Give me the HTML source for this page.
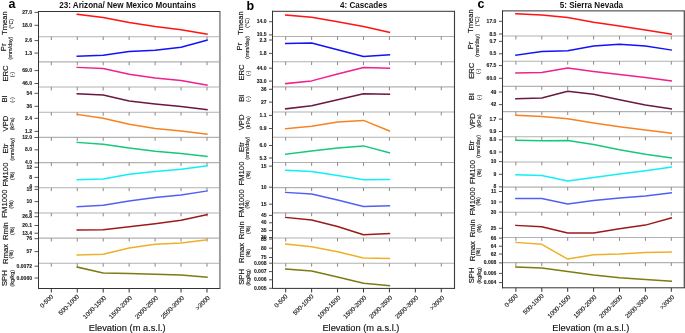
<!DOCTYPE html>
<html><head><meta charset="utf-8"><style>
html,body{margin:0;padding:0;background:#fff;}
body{width:685px;height:333px;overflow:hidden;}
svg{display:block;will-change:transform;}
text{font-family:"Liberation Sans", sans-serif;}
.tk{font-size:4.9px;font-weight:bold;text-anchor:end;fill:#1a1a1a;stroke:#1a1a1a;stroke-width:0.1px;}
.yl{font-size:7.7px;text-anchor:middle;fill:#1a1a1a;stroke:#1a1a1a;stroke-width:0.18px;}
.yu{font-size:5.4px;text-anchor:middle;fill:#222;stroke:#222;stroke-width:0.12px;}
.xl{font-size:6.2px;text-anchor:end;fill:#1a1a1a;stroke:#1a1a1a;stroke-width:0.15px;}
.xt{font-size:9.3px;text-anchor:middle;fill:#111;stroke:#111;stroke-width:0.15px;}
.tt{font-size:9.2px;font-weight:bold;text-anchor:middle;fill:#111;}
.pl{font-size:12.5px;font-weight:bold;fill:#000;}
</style></head><body>
<svg width="685" height="333" viewBox="0 0 685 333" xmlns="http://www.w3.org/2000/svg">
<line x1="38" y1="36.68" x2="220" y2="36.68" stroke="#b2b2b2" stroke-width="1.1"/>
<line x1="38" y1="61.86" x2="220" y2="61.86" stroke="#b2b2b2" stroke-width="1.1"/>
<line x1="38" y1="87.05" x2="220" y2="87.05" stroke="#b2b2b2" stroke-width="1.1"/>
<line x1="38" y1="112.23" x2="220" y2="112.23" stroke="#b2b2b2" stroke-width="1.1"/>
<line x1="38" y1="137.41" x2="220" y2="137.41" stroke="#b2b2b2" stroke-width="1.1"/>
<line x1="38" y1="162.59" x2="220" y2="162.59" stroke="#b2b2b2" stroke-width="1.1"/>
<line x1="38" y1="187.77" x2="220" y2="187.77" stroke="#b2b2b2" stroke-width="1.1"/>
<line x1="38" y1="212.95" x2="220" y2="212.95" stroke="#b2b2b2" stroke-width="1.1"/>
<line x1="38" y1="238.14" x2="220" y2="238.14" stroke="#b2b2b2" stroke-width="1.1"/>
<line x1="38" y1="263.32" x2="220" y2="263.32" stroke="#b2b2b2" stroke-width="1.1"/>
<line x1="51.3" y1="36.68" x2="51.3" y2="40.08" stroke="#888" stroke-width="1"/>
<line x1="77.25" y1="36.68" x2="77.25" y2="40.08" stroke="#888" stroke-width="1"/>
<line x1="103.2" y1="36.68" x2="103.2" y2="40.08" stroke="#888" stroke-width="1"/>
<line x1="129.15" y1="36.68" x2="129.15" y2="40.08" stroke="#888" stroke-width="1"/>
<line x1="155.1" y1="36.68" x2="155.1" y2="40.08" stroke="#888" stroke-width="1"/>
<line x1="181.05" y1="36.68" x2="181.05" y2="40.08" stroke="#888" stroke-width="1"/>
<line x1="207" y1="36.68" x2="207" y2="40.08" stroke="#888" stroke-width="1"/>
<line x1="51.3" y1="61.86" x2="51.3" y2="65.26" stroke="#888" stroke-width="1"/>
<line x1="77.25" y1="61.86" x2="77.25" y2="65.26" stroke="#888" stroke-width="1"/>
<line x1="103.2" y1="61.86" x2="103.2" y2="65.26" stroke="#888" stroke-width="1"/>
<line x1="129.15" y1="61.86" x2="129.15" y2="65.26" stroke="#888" stroke-width="1"/>
<line x1="155.1" y1="61.86" x2="155.1" y2="65.26" stroke="#888" stroke-width="1"/>
<line x1="181.05" y1="61.86" x2="181.05" y2="65.26" stroke="#888" stroke-width="1"/>
<line x1="207" y1="61.86" x2="207" y2="65.26" stroke="#888" stroke-width="1"/>
<line x1="51.3" y1="87.05" x2="51.3" y2="90.45" stroke="#888" stroke-width="1"/>
<line x1="77.25" y1="87.05" x2="77.25" y2="90.45" stroke="#888" stroke-width="1"/>
<line x1="103.2" y1="87.05" x2="103.2" y2="90.45" stroke="#888" stroke-width="1"/>
<line x1="129.15" y1="87.05" x2="129.15" y2="90.45" stroke="#888" stroke-width="1"/>
<line x1="155.1" y1="87.05" x2="155.1" y2="90.45" stroke="#888" stroke-width="1"/>
<line x1="181.05" y1="87.05" x2="181.05" y2="90.45" stroke="#888" stroke-width="1"/>
<line x1="207" y1="87.05" x2="207" y2="90.45" stroke="#888" stroke-width="1"/>
<line x1="51.3" y1="112.23" x2="51.3" y2="115.63" stroke="#888" stroke-width="1"/>
<line x1="77.25" y1="112.23" x2="77.25" y2="115.63" stroke="#888" stroke-width="1"/>
<line x1="103.2" y1="112.23" x2="103.2" y2="115.63" stroke="#888" stroke-width="1"/>
<line x1="129.15" y1="112.23" x2="129.15" y2="115.63" stroke="#888" stroke-width="1"/>
<line x1="155.1" y1="112.23" x2="155.1" y2="115.63" stroke="#888" stroke-width="1"/>
<line x1="181.05" y1="112.23" x2="181.05" y2="115.63" stroke="#888" stroke-width="1"/>
<line x1="207" y1="112.23" x2="207" y2="115.63" stroke="#888" stroke-width="1"/>
<line x1="51.3" y1="137.41" x2="51.3" y2="140.81" stroke="#888" stroke-width="1"/>
<line x1="77.25" y1="137.41" x2="77.25" y2="140.81" stroke="#888" stroke-width="1"/>
<line x1="103.2" y1="137.41" x2="103.2" y2="140.81" stroke="#888" stroke-width="1"/>
<line x1="129.15" y1="137.41" x2="129.15" y2="140.81" stroke="#888" stroke-width="1"/>
<line x1="155.1" y1="137.41" x2="155.1" y2="140.81" stroke="#888" stroke-width="1"/>
<line x1="181.05" y1="137.41" x2="181.05" y2="140.81" stroke="#888" stroke-width="1"/>
<line x1="207" y1="137.41" x2="207" y2="140.81" stroke="#888" stroke-width="1"/>
<line x1="51.3" y1="162.59" x2="51.3" y2="165.99" stroke="#888" stroke-width="1"/>
<line x1="77.25" y1="162.59" x2="77.25" y2="165.99" stroke="#888" stroke-width="1"/>
<line x1="103.2" y1="162.59" x2="103.2" y2="165.99" stroke="#888" stroke-width="1"/>
<line x1="129.15" y1="162.59" x2="129.15" y2="165.99" stroke="#888" stroke-width="1"/>
<line x1="155.1" y1="162.59" x2="155.1" y2="165.99" stroke="#888" stroke-width="1"/>
<line x1="181.05" y1="162.59" x2="181.05" y2="165.99" stroke="#888" stroke-width="1"/>
<line x1="207" y1="162.59" x2="207" y2="165.99" stroke="#888" stroke-width="1"/>
<line x1="51.3" y1="187.77" x2="51.3" y2="191.17" stroke="#888" stroke-width="1"/>
<line x1="77.25" y1="187.77" x2="77.25" y2="191.17" stroke="#888" stroke-width="1"/>
<line x1="103.2" y1="187.77" x2="103.2" y2="191.17" stroke="#888" stroke-width="1"/>
<line x1="129.15" y1="187.77" x2="129.15" y2="191.17" stroke="#888" stroke-width="1"/>
<line x1="155.1" y1="187.77" x2="155.1" y2="191.17" stroke="#888" stroke-width="1"/>
<line x1="181.05" y1="187.77" x2="181.05" y2="191.17" stroke="#888" stroke-width="1"/>
<line x1="207" y1="187.77" x2="207" y2="191.17" stroke="#888" stroke-width="1"/>
<line x1="51.3" y1="212.95" x2="51.3" y2="216.35" stroke="#888" stroke-width="1"/>
<line x1="77.25" y1="212.95" x2="77.25" y2="216.35" stroke="#888" stroke-width="1"/>
<line x1="103.2" y1="212.95" x2="103.2" y2="216.35" stroke="#888" stroke-width="1"/>
<line x1="129.15" y1="212.95" x2="129.15" y2="216.35" stroke="#888" stroke-width="1"/>
<line x1="155.1" y1="212.95" x2="155.1" y2="216.35" stroke="#888" stroke-width="1"/>
<line x1="181.05" y1="212.95" x2="181.05" y2="216.35" stroke="#888" stroke-width="1"/>
<line x1="207" y1="212.95" x2="207" y2="216.35" stroke="#888" stroke-width="1"/>
<line x1="51.3" y1="238.14" x2="51.3" y2="241.54" stroke="#888" stroke-width="1"/>
<line x1="77.25" y1="238.14" x2="77.25" y2="241.54" stroke="#888" stroke-width="1"/>
<line x1="103.2" y1="238.14" x2="103.2" y2="241.54" stroke="#888" stroke-width="1"/>
<line x1="129.15" y1="238.14" x2="129.15" y2="241.54" stroke="#888" stroke-width="1"/>
<line x1="155.1" y1="238.14" x2="155.1" y2="241.54" stroke="#888" stroke-width="1"/>
<line x1="181.05" y1="238.14" x2="181.05" y2="241.54" stroke="#888" stroke-width="1"/>
<line x1="207" y1="238.14" x2="207" y2="241.54" stroke="#888" stroke-width="1"/>
<line x1="51.3" y1="263.32" x2="51.3" y2="266.72" stroke="#888" stroke-width="1"/>
<line x1="77.25" y1="263.32" x2="77.25" y2="266.72" stroke="#888" stroke-width="1"/>
<line x1="103.2" y1="263.32" x2="103.2" y2="266.72" stroke="#888" stroke-width="1"/>
<line x1="129.15" y1="263.32" x2="129.15" y2="266.72" stroke="#888" stroke-width="1"/>
<line x1="155.1" y1="263.32" x2="155.1" y2="266.72" stroke="#888" stroke-width="1"/>
<line x1="181.05" y1="263.32" x2="181.05" y2="266.72" stroke="#888" stroke-width="1"/>
<line x1="207" y1="263.32" x2="207" y2="266.72" stroke="#888" stroke-width="1"/>
<polyline points="77.25,14.3 103.2,17.6 129.15,22.5 155.1,26.4 181.05,29.7 207,34.1" fill="none" stroke="#ff1414" stroke-width="1.5" stroke-linejoin="round" stroke-linecap="square"/>
<polyline points="77.25,56.3 103.2,55.2 129.15,51.6 155.1,50.3 181.05,47.2 207,40.1" fill="none" stroke="#1212fa" stroke-width="1.5" stroke-linejoin="round" stroke-linecap="square"/>
<polyline points="77.25,67.4 103.2,68.5 129.15,74.3 155.1,78.1 181.05,80.6 207,85.2" fill="none" stroke="#f0208c" stroke-width="1.5" stroke-linejoin="round" stroke-linecap="square"/>
<polyline points="77.25,93.8 103.2,94.9 129.15,100.9 155.1,103.9 181.05,106.4 207,109.7" fill="none" stroke="#6a1840" stroke-width="1.5" stroke-linejoin="round" stroke-linecap="square"/>
<polyline points="77.25,114.4 103.2,118.2 129.15,124.3 155.1,128.4 181.05,131.1 207,134.1" fill="none" stroke="#f88222" stroke-width="1.5" stroke-linejoin="round" stroke-linecap="square"/>
<polyline points="77.25,142.4 103.2,144.3 129.15,148.1 155.1,151.2 181.05,153.6 207,156.4" fill="none" stroke="#14c87c" stroke-width="1.5" stroke-linejoin="round" stroke-linecap="square"/>
<polyline points="77.25,179.8 103.2,178.9 129.15,174.3 155.1,171.5 181.05,169.3 207,165.8" fill="none" stroke="#14eef6" stroke-width="1.5" stroke-linejoin="round" stroke-linecap="square"/>
<polyline points="77.25,206.7 103.2,205.3 129.15,200.9 155.1,197.6 181.05,195.1 207,191" fill="none" stroke="#5060f4" stroke-width="1.5" stroke-linejoin="round" stroke-linecap="square"/>
<polyline points="77.25,230 103.2,229.8 129.15,226.7 155.1,223.7 181.05,220.2 207,214.7" fill="none" stroke="#9c1a1a" stroke-width="1.5" stroke-linejoin="round" stroke-linecap="square"/>
<polyline points="77.25,255 103.2,254.2 129.15,247.9 155.1,244.3 181.05,242.9 207,239.9" fill="none" stroke="#eeb028" stroke-width="1.5" stroke-linejoin="round" stroke-linecap="square"/>
<polyline points="77.25,267.1 103.2,273.1 129.15,273.4 155.1,274.2 181.05,275 207,277.2" fill="none" stroke="#7c7c12" stroke-width="1.5" stroke-linejoin="round" stroke-linecap="square"/>
<line x1="219.9" y1="11" x2="219.9" y2="289" stroke="#9a9a9a" stroke-width="1.9"/>
<line x1="38" y1="11.5" x2="219.9" y2="11.5" stroke="#333" stroke-width="1"/>
<line x1="38" y1="288.5" x2="219.9" y2="288.5" stroke="#333" stroke-width="1"/>
<line x1="38.5" y1="11" x2="38.5" y2="289" stroke="#333" stroke-width="1"/>
<line x1="51.3" y1="288.5" x2="51.3" y2="292.5" stroke="#333" stroke-width="1"/>
<line x1="77.25" y1="288.5" x2="77.25" y2="292.5" stroke="#333" stroke-width="1"/>
<line x1="103.2" y1="288.5" x2="103.2" y2="292.5" stroke="#333" stroke-width="1"/>
<line x1="129.15" y1="288.5" x2="129.15" y2="292.5" stroke="#333" stroke-width="1"/>
<line x1="155.1" y1="288.5" x2="155.1" y2="292.5" stroke="#333" stroke-width="1"/>
<line x1="181.05" y1="288.5" x2="181.05" y2="292.5" stroke="#333" stroke-width="1"/>
<line x1="207" y1="288.5" x2="207" y2="292.5" stroke="#333" stroke-width="1"/>
<line x1="34.5" y1="12.4" x2="38" y2="12.4" stroke="#555" stroke-width="1"/>
<text transform="translate(32,13.9) scale(1.03,1)" class="tk">27.0</text>
<line x1="34.5" y1="25.3" x2="38" y2="25.3" stroke="#555" stroke-width="1"/>
<text transform="translate(32,26.8) scale(1.03,1)" class="tk">18.0</text>
<line x1="34.5" y1="40.6" x2="38" y2="40.6" stroke="#555" stroke-width="1"/>
<text transform="translate(32,42.1) scale(1.03,1)" class="tk">2.6</text>
<line x1="34.5" y1="53.1" x2="38" y2="53.1" stroke="#555" stroke-width="1"/>
<text transform="translate(32,54.6) scale(1.03,1)" class="tk">1.3</text>
<line x1="34.5" y1="70.6" x2="38" y2="70.6" stroke="#555" stroke-width="1"/>
<text transform="translate(32,72.1) scale(1.03,1)" class="tk">69.0</text>
<line x1="34.5" y1="83.5" x2="38" y2="83.5" stroke="#555" stroke-width="1"/>
<text transform="translate(32,85) scale(1.03,1)" class="tk">46.0</text>
<line x1="34.5" y1="93.3" x2="38" y2="93.3" stroke="#555" stroke-width="1"/>
<text transform="translate(32,94.8) scale(1.03,1)" class="tk">54</text>
<line x1="34.5" y1="106.3" x2="38" y2="106.3" stroke="#555" stroke-width="1"/>
<text transform="translate(32,107.8) scale(1.03,1)" class="tk">36</text>
<line x1="34.5" y1="118.3" x2="38" y2="118.3" stroke="#555" stroke-width="1"/>
<text transform="translate(32,119.8) scale(1.03,1)" class="tk">2.4</text>
<line x1="34.5" y1="131.4" x2="38" y2="131.4" stroke="#555" stroke-width="1"/>
<text transform="translate(32,132.9) scale(1.03,1)" class="tk">1.2</text>
<line x1="34.5" y1="137.5" x2="38" y2="137.5" stroke="#555" stroke-width="1"/>
<text transform="translate(32,139) scale(1.03,1)" class="tk">12.0</text>
<line x1="34.5" y1="149.8" x2="38" y2="149.8" stroke="#555" stroke-width="1"/>
<text transform="translate(32,151.3) scale(1.03,1)" class="tk">8.0</text>
<line x1="34.5" y1="162.9" x2="38" y2="162.9" stroke="#555" stroke-width="1"/>
<text transform="translate(32,164.4) scale(1.03,1)" class="tk">4.0</text>
<line x1="34.5" y1="167.3" x2="38" y2="167.3" stroke="#555" stroke-width="1"/>
<text transform="translate(32,168.8) scale(1.03,1)" class="tk">12</text>
<line x1="34.5" y1="177.4" x2="38" y2="177.4" stroke="#555" stroke-width="1"/>
<text transform="translate(32,178.9) scale(1.03,1)" class="tk">8</text>
<line x1="34.5" y1="186.8" x2="38" y2="186.8" stroke="#555" stroke-width="1"/>
<text transform="translate(32,188.3) scale(1.03,1)" class="tk">4</text>
<line x1="34.5" y1="189.4" x2="38" y2="189.4" stroke="#555" stroke-width="1"/>
<text transform="translate(32,190.9) scale(1.03,1)" class="tk">15</text>
<line x1="34.5" y1="201.6" x2="38" y2="201.6" stroke="#555" stroke-width="1"/>
<text transform="translate(32,203.1) scale(1.03,1)" class="tk">10</text>
<line x1="34.5" y1="212.9" x2="38" y2="212.9" stroke="#555" stroke-width="1"/>
<text transform="translate(32,214.4) scale(1.03,1)" class="tk">5</text>
<line x1="34.5" y1="216.7" x2="38" y2="216.7" stroke="#555" stroke-width="1"/>
<text transform="translate(32,218.2) scale(1.03,1)" class="tk">26.8</text>
<line x1="34.5" y1="225.5" x2="38" y2="225.5" stroke="#555" stroke-width="1"/>
<text transform="translate(32,227) scale(1.03,1)" class="tk">20.1</text>
<line x1="34.5" y1="233.2" x2="38" y2="233.2" stroke="#555" stroke-width="1"/>
<text transform="translate(32,234.7) scale(1.03,1)" class="tk">13.4</text>
<line x1="34.5" y1="238.7" x2="38" y2="238.7" stroke="#555" stroke-width="1"/>
<text transform="translate(32,240.2) scale(1.03,1)" class="tk">76</text>
<line x1="34.5" y1="251.6" x2="38" y2="251.6" stroke="#555" stroke-width="1"/>
<text transform="translate(32,253.1) scale(1.03,1)" class="tk">57</text>
<line x1="34.5" y1="266.2" x2="38" y2="266.2" stroke="#555" stroke-width="1"/>
<text transform="translate(32,267.7) scale(1.03,1)" class="tk">0.0072</text>
<line x1="34.5" y1="278" x2="38" y2="278" stroke="#555" stroke-width="1"/>
<text transform="translate(32,279.5) scale(1.03,1)" class="tk">0.0060</text>
<text class="yl" transform="translate(6.51,23.1) rotate(-90)">Tmean</text>
<text class="yu" transform="translate(12.5,23.75) rotate(-90)">(°C)</text>
<text class="yl" transform="translate(5.66,47.3) rotate(-90)">Pr</text>
<text class="yu" transform="translate(11.6,48) rotate(-90)">(mm/day)</text>
<text class="yl" transform="translate(7.61,73.5) rotate(-90)">ERC</text>
<text class="yu" transform="translate(14.2,74.6) rotate(-90)">(-)</text>
<text class="yl" transform="translate(7.16,98.9) rotate(-90)">BI</text>
<text class="yu" transform="translate(14.2,99.8) rotate(-90)">(-)</text>
<text class="yl" transform="translate(7.81,123.5) rotate(-90)">VPD</text>
<text class="yu" transform="translate(14,123.9) rotate(-90)">(kPa)</text>
<text class="yl" transform="translate(7.51,148.5) rotate(-90)">Etr</text>
<text class="yu" transform="translate(13.85,149) rotate(-90)">(mm/day)</text>
<text class="yl" transform="translate(7.81,174.55) rotate(-90)">FM100</text>
<text class="yu" transform="translate(13.6,175.9) rotate(-90)">(%)</text>
<text class="yl" transform="translate(7.36,203.6) rotate(-90)">FM1000</text>
<text class="yu" transform="translate(12.65,204.3) rotate(-90)">(%)</text>
<text class="yl" transform="translate(8.01,231.1) rotate(-90)">Rmin</text>
<text class="yu" transform="translate(13.6,230.9) rotate(-90)">(%)</text>
<text class="yl" transform="translate(8.01,254) rotate(-90)">Rmax</text>
<text class="yu" transform="translate(13.4,254.2) rotate(-90)">(%)</text>
<text class="yl" transform="translate(7.36,278.1) rotate(-90)">SPH</text>
<text class="yu" transform="translate(13.6,278.15) rotate(-90)">(kg/kg)</text>
<text class="xl" transform="translate(53.6,297) rotate(-45)">0-500</text>
<text class="xl" transform="translate(79.55,297) rotate(-45)">500-1000</text>
<text class="xl" transform="translate(106.5,298.2) rotate(-45)">1000-1500</text>
<text class="xl" transform="translate(132.45,298.2) rotate(-45)">1500-2000</text>
<text class="xl" transform="translate(158.4,298.2) rotate(-45)">2000-2500</text>
<text class="xl" transform="translate(184.35,298.2) rotate(-45)">2500-3000</text>
<text class="xl" transform="translate(210.3,298.2) rotate(-45)">&gt;3000</text>
<text class="xt" x="127.2" y="331">Elevation (m a.s.l.)</text>
<text class="tt" transform="translate(127.6,8.1) scale(0.88,1)">23: Arizona/ New Mexico Mountains</text>
<text class="pl" x="8.6" y="8">a</text>
<line x1="272.5" y1="36.49" x2="454.5" y2="36.49" stroke="#b2b2b2" stroke-width="1.1"/>
<line x1="272.5" y1="61.68" x2="454.5" y2="61.68" stroke="#b2b2b2" stroke-width="1.1"/>
<line x1="272.5" y1="86.87" x2="454.5" y2="86.87" stroke="#b2b2b2" stroke-width="1.1"/>
<line x1="272.5" y1="112.06" x2="454.5" y2="112.06" stroke="#b2b2b2" stroke-width="1.1"/>
<line x1="272.5" y1="137.25" x2="454.5" y2="137.25" stroke="#b2b2b2" stroke-width="1.1"/>
<line x1="272.5" y1="162.45" x2="454.5" y2="162.45" stroke="#b2b2b2" stroke-width="1.1"/>
<line x1="272.5" y1="187.64" x2="454.5" y2="187.64" stroke="#b2b2b2" stroke-width="1.1"/>
<line x1="272.5" y1="212.83" x2="454.5" y2="212.83" stroke="#b2b2b2" stroke-width="1.1"/>
<line x1="272.5" y1="238.02" x2="454.5" y2="238.02" stroke="#b2b2b2" stroke-width="1.1"/>
<line x1="272.5" y1="263.21" x2="454.5" y2="263.21" stroke="#b2b2b2" stroke-width="1.1"/>
<line x1="285.7" y1="36.49" x2="285.7" y2="39.89" stroke="#888" stroke-width="1"/>
<line x1="311.63" y1="36.49" x2="311.63" y2="39.89" stroke="#888" stroke-width="1"/>
<line x1="337.56" y1="36.49" x2="337.56" y2="39.89" stroke="#888" stroke-width="1"/>
<line x1="363.49" y1="36.49" x2="363.49" y2="39.89" stroke="#888" stroke-width="1"/>
<line x1="389.42" y1="36.49" x2="389.42" y2="39.89" stroke="#888" stroke-width="1"/>
<line x1="415.35" y1="36.49" x2="415.35" y2="39.89" stroke="#888" stroke-width="1"/>
<line x1="441.28" y1="36.49" x2="441.28" y2="39.89" stroke="#888" stroke-width="1"/>
<line x1="285.7" y1="61.68" x2="285.7" y2="65.08" stroke="#888" stroke-width="1"/>
<line x1="311.63" y1="61.68" x2="311.63" y2="65.08" stroke="#888" stroke-width="1"/>
<line x1="337.56" y1="61.68" x2="337.56" y2="65.08" stroke="#888" stroke-width="1"/>
<line x1="363.49" y1="61.68" x2="363.49" y2="65.08" stroke="#888" stroke-width="1"/>
<line x1="389.42" y1="61.68" x2="389.42" y2="65.08" stroke="#888" stroke-width="1"/>
<line x1="415.35" y1="61.68" x2="415.35" y2="65.08" stroke="#888" stroke-width="1"/>
<line x1="441.28" y1="61.68" x2="441.28" y2="65.08" stroke="#888" stroke-width="1"/>
<line x1="285.7" y1="86.87" x2="285.7" y2="90.27" stroke="#888" stroke-width="1"/>
<line x1="311.63" y1="86.87" x2="311.63" y2="90.27" stroke="#888" stroke-width="1"/>
<line x1="337.56" y1="86.87" x2="337.56" y2="90.27" stroke="#888" stroke-width="1"/>
<line x1="363.49" y1="86.87" x2="363.49" y2="90.27" stroke="#888" stroke-width="1"/>
<line x1="389.42" y1="86.87" x2="389.42" y2="90.27" stroke="#888" stroke-width="1"/>
<line x1="415.35" y1="86.87" x2="415.35" y2="90.27" stroke="#888" stroke-width="1"/>
<line x1="441.28" y1="86.87" x2="441.28" y2="90.27" stroke="#888" stroke-width="1"/>
<line x1="285.7" y1="112.06" x2="285.7" y2="115.46" stroke="#888" stroke-width="1"/>
<line x1="311.63" y1="112.06" x2="311.63" y2="115.46" stroke="#888" stroke-width="1"/>
<line x1="337.56" y1="112.06" x2="337.56" y2="115.46" stroke="#888" stroke-width="1"/>
<line x1="363.49" y1="112.06" x2="363.49" y2="115.46" stroke="#888" stroke-width="1"/>
<line x1="389.42" y1="112.06" x2="389.42" y2="115.46" stroke="#888" stroke-width="1"/>
<line x1="415.35" y1="112.06" x2="415.35" y2="115.46" stroke="#888" stroke-width="1"/>
<line x1="441.28" y1="112.06" x2="441.28" y2="115.46" stroke="#888" stroke-width="1"/>
<line x1="285.7" y1="137.25" x2="285.7" y2="140.65" stroke="#888" stroke-width="1"/>
<line x1="311.63" y1="137.25" x2="311.63" y2="140.65" stroke="#888" stroke-width="1"/>
<line x1="337.56" y1="137.25" x2="337.56" y2="140.65" stroke="#888" stroke-width="1"/>
<line x1="363.49" y1="137.25" x2="363.49" y2="140.65" stroke="#888" stroke-width="1"/>
<line x1="389.42" y1="137.25" x2="389.42" y2="140.65" stroke="#888" stroke-width="1"/>
<line x1="415.35" y1="137.25" x2="415.35" y2="140.65" stroke="#888" stroke-width="1"/>
<line x1="441.28" y1="137.25" x2="441.28" y2="140.65" stroke="#888" stroke-width="1"/>
<line x1="285.7" y1="162.45" x2="285.7" y2="165.85" stroke="#888" stroke-width="1"/>
<line x1="311.63" y1="162.45" x2="311.63" y2="165.85" stroke="#888" stroke-width="1"/>
<line x1="337.56" y1="162.45" x2="337.56" y2="165.85" stroke="#888" stroke-width="1"/>
<line x1="363.49" y1="162.45" x2="363.49" y2="165.85" stroke="#888" stroke-width="1"/>
<line x1="389.42" y1="162.45" x2="389.42" y2="165.85" stroke="#888" stroke-width="1"/>
<line x1="415.35" y1="162.45" x2="415.35" y2="165.85" stroke="#888" stroke-width="1"/>
<line x1="441.28" y1="162.45" x2="441.28" y2="165.85" stroke="#888" stroke-width="1"/>
<line x1="285.7" y1="187.64" x2="285.7" y2="191.04" stroke="#888" stroke-width="1"/>
<line x1="311.63" y1="187.64" x2="311.63" y2="191.04" stroke="#888" stroke-width="1"/>
<line x1="337.56" y1="187.64" x2="337.56" y2="191.04" stroke="#888" stroke-width="1"/>
<line x1="363.49" y1="187.64" x2="363.49" y2="191.04" stroke="#888" stroke-width="1"/>
<line x1="389.42" y1="187.64" x2="389.42" y2="191.04" stroke="#888" stroke-width="1"/>
<line x1="415.35" y1="187.64" x2="415.35" y2="191.04" stroke="#888" stroke-width="1"/>
<line x1="441.28" y1="187.64" x2="441.28" y2="191.04" stroke="#888" stroke-width="1"/>
<line x1="285.7" y1="212.83" x2="285.7" y2="216.23" stroke="#888" stroke-width="1"/>
<line x1="311.63" y1="212.83" x2="311.63" y2="216.23" stroke="#888" stroke-width="1"/>
<line x1="337.56" y1="212.83" x2="337.56" y2="216.23" stroke="#888" stroke-width="1"/>
<line x1="363.49" y1="212.83" x2="363.49" y2="216.23" stroke="#888" stroke-width="1"/>
<line x1="389.42" y1="212.83" x2="389.42" y2="216.23" stroke="#888" stroke-width="1"/>
<line x1="415.35" y1="212.83" x2="415.35" y2="216.23" stroke="#888" stroke-width="1"/>
<line x1="441.28" y1="212.83" x2="441.28" y2="216.23" stroke="#888" stroke-width="1"/>
<line x1="285.7" y1="238.02" x2="285.7" y2="241.42" stroke="#888" stroke-width="1"/>
<line x1="311.63" y1="238.02" x2="311.63" y2="241.42" stroke="#888" stroke-width="1"/>
<line x1="337.56" y1="238.02" x2="337.56" y2="241.42" stroke="#888" stroke-width="1"/>
<line x1="363.49" y1="238.02" x2="363.49" y2="241.42" stroke="#888" stroke-width="1"/>
<line x1="389.42" y1="238.02" x2="389.42" y2="241.42" stroke="#888" stroke-width="1"/>
<line x1="415.35" y1="238.02" x2="415.35" y2="241.42" stroke="#888" stroke-width="1"/>
<line x1="441.28" y1="238.02" x2="441.28" y2="241.42" stroke="#888" stroke-width="1"/>
<line x1="285.7" y1="263.21" x2="285.7" y2="266.61" stroke="#888" stroke-width="1"/>
<line x1="311.63" y1="263.21" x2="311.63" y2="266.61" stroke="#888" stroke-width="1"/>
<line x1="337.56" y1="263.21" x2="337.56" y2="266.61" stroke="#888" stroke-width="1"/>
<line x1="363.49" y1="263.21" x2="363.49" y2="266.61" stroke="#888" stroke-width="1"/>
<line x1="389.42" y1="263.21" x2="389.42" y2="266.61" stroke="#888" stroke-width="1"/>
<line x1="415.35" y1="263.21" x2="415.35" y2="266.61" stroke="#888" stroke-width="1"/>
<line x1="441.28" y1="263.21" x2="441.28" y2="266.61" stroke="#888" stroke-width="1"/>
<polyline points="285.7,15.1 311.63,17.3 337.56,21.7 363.49,26.4 389.42,32.4" fill="none" stroke="#ff1414" stroke-width="1.5" stroke-linejoin="round" stroke-linecap="square"/>
<polyline points="285.7,43.4 311.63,43.1 337.56,49.85 363.49,56.6 389.42,54.9" fill="none" stroke="#1212fa" stroke-width="1.5" stroke-linejoin="round" stroke-linecap="square"/>
<polyline points="285.7,83.6 311.63,80.9 337.56,74 363.49,67.4 389.42,68.2" fill="none" stroke="#f0208c" stroke-width="1.5" stroke-linejoin="round" stroke-linecap="square"/>
<polyline points="285.7,108.8 311.63,105.8 337.56,99.8 363.49,93.8 389.42,94.3" fill="none" stroke="#6a1840" stroke-width="1.5" stroke-linejoin="round" stroke-linecap="square"/>
<polyline points="285.7,128.7 311.63,126.2 337.56,122.1 363.49,120.4 389.42,130.9" fill="none" stroke="#f88222" stroke-width="1.5" stroke-linejoin="round" stroke-linecap="square"/>
<polyline points="285.7,154.2 311.63,150.9 337.56,147.9 363.49,145.9 389.42,152.8" fill="none" stroke="#14c87c" stroke-width="1.5" stroke-linejoin="round" stroke-linecap="square"/>
<polyline points="285.7,170.2 311.63,171.5 337.56,175.4 363.49,179.8 389.42,179.5" fill="none" stroke="#14eef6" stroke-width="1.5" stroke-linejoin="round" stroke-linecap="square"/>
<polyline points="285.7,192.4 311.63,194 337.56,200.1 363.49,206.4 389.42,205.8" fill="none" stroke="#5060f4" stroke-width="1.5" stroke-linejoin="round" stroke-linecap="square"/>
<polyline points="285.7,217.4 311.63,219.9 337.56,226.5 363.49,234.7 389.42,233.6" fill="none" stroke="#9c1a1a" stroke-width="1.5" stroke-linejoin="round" stroke-linecap="square"/>
<polyline points="285.7,244 311.63,246.8 337.56,251.7 363.49,258 389.42,258.6" fill="none" stroke="#eeb028" stroke-width="1.5" stroke-linejoin="round" stroke-linecap="square"/>
<polyline points="285.7,269 311.63,270.9 337.56,277 363.49,283.3 389.42,285.7" fill="none" stroke="#7c7c12" stroke-width="1.5" stroke-linejoin="round" stroke-linecap="square"/>
<line x1="454.5" y1="10.8" x2="454.5" y2="288.9" stroke="#3a3a3a" stroke-width="1.1"/>
<line x1="272" y1="11.3" x2="454.5" y2="11.3" stroke="#333" stroke-width="1"/>
<line x1="272" y1="288.4" x2="454.5" y2="288.4" stroke="#333" stroke-width="1"/>
<line x1="272.5" y1="10.8" x2="272.5" y2="288.9" stroke="#333" stroke-width="1"/>
<line x1="285.7" y1="288.4" x2="285.7" y2="292.4" stroke="#333" stroke-width="1"/>
<line x1="311.63" y1="288.4" x2="311.63" y2="292.4" stroke="#333" stroke-width="1"/>
<line x1="337.56" y1="288.4" x2="337.56" y2="292.4" stroke="#333" stroke-width="1"/>
<line x1="363.49" y1="288.4" x2="363.49" y2="292.4" stroke="#333" stroke-width="1"/>
<line x1="389.42" y1="288.4" x2="389.42" y2="292.4" stroke="#333" stroke-width="1"/>
<line x1="415.35" y1="288.4" x2="415.35" y2="292.4" stroke="#333" stroke-width="1"/>
<line x1="441.28" y1="288.4" x2="441.28" y2="292.4" stroke="#333" stroke-width="1"/>
<line x1="269" y1="21.7" x2="272.5" y2="21.7" stroke="#555" stroke-width="1"/>
<text transform="translate(266.5,23.2) scale(1.03,1)" class="tk">14.0</text>
<line x1="269" y1="34.9" x2="272.5" y2="34.9" stroke="#555" stroke-width="1"/>
<text transform="translate(266.5,36.4) scale(1.03,1)" class="tk">10.5</text>
<line x1="269" y1="40" x2="272.5" y2="40" stroke="#555" stroke-width="1"/>
<text transform="translate(266.5,41.5) scale(1.03,1)" class="tk">2.3</text>
<line x1="269" y1="53.4" x2="272.5" y2="53.4" stroke="#555" stroke-width="1"/>
<text transform="translate(266.5,54.9) scale(1.03,1)" class="tk">1.8</text>
<line x1="269" y1="68.2" x2="272.5" y2="68.2" stroke="#555" stroke-width="1"/>
<text transform="translate(266.5,69.7) scale(1.03,1)" class="tk">44.0</text>
<line x1="269" y1="81.1" x2="272.5" y2="81.1" stroke="#555" stroke-width="1"/>
<text transform="translate(266.5,82.6) scale(1.03,1)" class="tk">33.0</text>
<line x1="269" y1="89.3" x2="272.5" y2="89.3" stroke="#555" stroke-width="1"/>
<text transform="translate(266.5,90.8) scale(1.03,1)" class="tk">36</text>
<line x1="269" y1="102.1" x2="272.5" y2="102.1" stroke="#555" stroke-width="1"/>
<text transform="translate(266.5,103.6) scale(1.03,1)" class="tk">27</text>
<line x1="269" y1="115.4" x2="272.5" y2="115.4" stroke="#555" stroke-width="1"/>
<text transform="translate(266.5,116.9) scale(1.03,1)" class="tk">1.1</text>
<line x1="269" y1="128.5" x2="272.5" y2="128.5" stroke="#555" stroke-width="1"/>
<text transform="translate(266.5,130) scale(1.03,1)" class="tk">0.9</text>
<line x1="269" y1="145.5" x2="272.5" y2="145.5" stroke="#555" stroke-width="1"/>
<text transform="translate(266.5,147) scale(1.03,1)" class="tk">6.0</text>
<line x1="269" y1="158" x2="272.5" y2="158" stroke="#555" stroke-width="1"/>
<text transform="translate(266.5,159.5) scale(1.03,1)" class="tk">5.3</text>
<line x1="269" y1="166.1" x2="272.5" y2="166.1" stroke="#555" stroke-width="1"/>
<text transform="translate(266.5,167.6) scale(1.03,1)" class="tk">15</text>
<line x1="269" y1="187.2" x2="272.5" y2="187.2" stroke="#555" stroke-width="1"/>
<text transform="translate(266.5,188.7) scale(1.03,1)" class="tk">10</text>
<line x1="269" y1="204.2" x2="272.5" y2="204.2" stroke="#555" stroke-width="1"/>
<text transform="translate(266.5,205.7) scale(1.03,1)" class="tk">15</text>
<line x1="269" y1="215.4" x2="272.5" y2="215.4" stroke="#555" stroke-width="1"/>
<text transform="translate(266.5,216.9) scale(1.03,1)" class="tk">45</text>
<line x1="269" y1="222.8" x2="272.5" y2="222.8" stroke="#555" stroke-width="1"/>
<text transform="translate(266.5,224.3) scale(1.03,1)" class="tk">40</text>
<line x1="269" y1="230.6" x2="272.5" y2="230.6" stroke="#555" stroke-width="1"/>
<text transform="translate(266.5,232.1) scale(1.03,1)" class="tk">35</text>
<line x1="269" y1="237.5" x2="272.5" y2="237.5" stroke="#555" stroke-width="1"/>
<text transform="translate(266.5,239) scale(1.03,1)" class="tk">30</text>
<line x1="269" y1="239" x2="272.5" y2="239" stroke="#555" stroke-width="1"/>
<text transform="translate(266.5,240.5) scale(1.03,1)" class="tk">85</text>
<line x1="269" y1="248.2" x2="272.5" y2="248.2" stroke="#555" stroke-width="1"/>
<text transform="translate(266.5,249.7) scale(1.03,1)" class="tk">80</text>
<line x1="269" y1="257.5" x2="272.5" y2="257.5" stroke="#555" stroke-width="1"/>
<text transform="translate(266.5,259) scale(1.03,1)" class="tk">75</text>
<line x1="269" y1="263.2" x2="272.5" y2="263.2" stroke="#555" stroke-width="1"/>
<text transform="translate(266.5,264.7) scale(1.03,1)" class="tk">0.008</text>
<line x1="269" y1="271.6" x2="272.5" y2="271.6" stroke="#555" stroke-width="1"/>
<text transform="translate(266.5,273.1) scale(1.03,1)" class="tk">0.007</text>
<line x1="269" y1="279.8" x2="272.5" y2="279.8" stroke="#555" stroke-width="1"/>
<text transform="translate(266.5,281.3) scale(1.03,1)" class="tk">0.006</text>
<line x1="269" y1="288.3" x2="272.5" y2="288.3" stroke="#555" stroke-width="1"/>
<text transform="translate(266.5,289.8) scale(1.03,1)" class="tk">0.005</text>
<text class="yl" transform="translate(242.71,23.15) rotate(-90)">Tmean</text>
<text class="yu" transform="translate(248.6,22.9) rotate(-90)">(°C)</text>
<text class="yl" transform="translate(242.31,46.6) rotate(-90)">Pr</text>
<text class="yu" transform="translate(248.7,47.25) rotate(-90)">(mm/day)</text>
<text class="yl" transform="translate(243.81,72.5) rotate(-90)">ERC</text>
<text class="yu" transform="translate(250.4,73.35) rotate(-90)">(-)</text>
<text class="yl" transform="translate(243.81,98.15) rotate(-90)">BI</text>
<text class="yu" transform="translate(250.4,99) rotate(-90)">(-)</text>
<text class="yl" transform="translate(244.01,122.35) rotate(-90)">VPD</text>
<text class="yu" transform="translate(250.2,122.6) rotate(-90)">(kPa)</text>
<text class="yl" transform="translate(243.81,147) rotate(-90)">Etr</text>
<text class="yu" transform="translate(249.15,148) rotate(-90)">(mm/day)</text>
<text class="yl" transform="translate(244.01,173.55) rotate(-90)">FM100</text>
<text class="yu" transform="translate(249.8,174.9) rotate(-90)">(%)</text>
<text class="yl" transform="translate(243.71,203.35) rotate(-90)">FM1000</text>
<text class="yu" transform="translate(249.1,204.35) rotate(-90)">(%)</text>
<text class="yl" transform="translate(244.16,230.3) rotate(-90)">Rmin</text>
<text class="yu" transform="translate(250.2,229.9) rotate(-90)">(%)</text>
<text class="yl" transform="translate(244.16,252.9) rotate(-90)">Rmax</text>
<text class="yu" transform="translate(250,253.1) rotate(-90)">(%)</text>
<text class="yl" transform="translate(243.81,276.9) rotate(-90)">SPH</text>
<text class="yu" transform="translate(249.95,277.35) rotate(-90)">(kg/kg)</text>
<text class="xl" transform="translate(288,296.9) rotate(-45)">0-500</text>
<text class="xl" transform="translate(313.93,296.9) rotate(-45)">500-1000</text>
<text class="xl" transform="translate(340.86,298.1) rotate(-45)">1000-1500</text>
<text class="xl" transform="translate(366.79,298.1) rotate(-45)">1500-2000</text>
<text class="xl" transform="translate(392.72,298.1) rotate(-45)">2000-2500</text>
<text class="xl" transform="translate(418.65,298.1) rotate(-45)">2500-3000</text>
<text class="xl" transform="translate(444.58,298.1) rotate(-45)">&gt;3000</text>
<text class="xt" x="360.9" y="331">Elevation (m a.s.l.)</text>
<text class="tt" transform="translate(363.6,8.1) scale(0.88,1)">4: Cascades</text>
<text class="pl" x="246.4" y="9.5">b</text>
<line x1="502.4" y1="36.07" x2="684.2" y2="36.07" stroke="#b2b2b2" stroke-width="1.1"/>
<line x1="502.4" y1="61.25" x2="684.2" y2="61.25" stroke="#b2b2b2" stroke-width="1.1"/>
<line x1="502.4" y1="86.42" x2="684.2" y2="86.42" stroke="#b2b2b2" stroke-width="1.1"/>
<line x1="502.4" y1="111.59" x2="684.2" y2="111.59" stroke="#b2b2b2" stroke-width="1.1"/>
<line x1="502.4" y1="136.76" x2="684.2" y2="136.76" stroke="#b2b2b2" stroke-width="1.1"/>
<line x1="502.4" y1="161.94" x2="684.2" y2="161.94" stroke="#b2b2b2" stroke-width="1.1"/>
<line x1="502.4" y1="187.11" x2="684.2" y2="187.11" stroke="#b2b2b2" stroke-width="1.1"/>
<line x1="502.4" y1="212.28" x2="684.2" y2="212.28" stroke="#b2b2b2" stroke-width="1.1"/>
<line x1="502.4" y1="237.45" x2="684.2" y2="237.45" stroke="#b2b2b2" stroke-width="1.1"/>
<line x1="502.4" y1="262.63" x2="684.2" y2="262.63" stroke="#b2b2b2" stroke-width="1.1"/>
<line x1="515.9" y1="36.07" x2="515.9" y2="39.47" stroke="#888" stroke-width="1"/>
<line x1="541.8" y1="36.07" x2="541.8" y2="39.47" stroke="#888" stroke-width="1"/>
<line x1="567.7" y1="36.07" x2="567.7" y2="39.47" stroke="#888" stroke-width="1"/>
<line x1="593.6" y1="36.07" x2="593.6" y2="39.47" stroke="#888" stroke-width="1"/>
<line x1="619.5" y1="36.07" x2="619.5" y2="39.47" stroke="#888" stroke-width="1"/>
<line x1="645.4" y1="36.07" x2="645.4" y2="39.47" stroke="#888" stroke-width="1"/>
<line x1="671.3" y1="36.07" x2="671.3" y2="39.47" stroke="#888" stroke-width="1"/>
<line x1="515.9" y1="61.25" x2="515.9" y2="64.65" stroke="#888" stroke-width="1"/>
<line x1="541.8" y1="61.25" x2="541.8" y2="64.65" stroke="#888" stroke-width="1"/>
<line x1="567.7" y1="61.25" x2="567.7" y2="64.65" stroke="#888" stroke-width="1"/>
<line x1="593.6" y1="61.25" x2="593.6" y2="64.65" stroke="#888" stroke-width="1"/>
<line x1="619.5" y1="61.25" x2="619.5" y2="64.65" stroke="#888" stroke-width="1"/>
<line x1="645.4" y1="61.25" x2="645.4" y2="64.65" stroke="#888" stroke-width="1"/>
<line x1="671.3" y1="61.25" x2="671.3" y2="64.65" stroke="#888" stroke-width="1"/>
<line x1="515.9" y1="86.42" x2="515.9" y2="89.82" stroke="#888" stroke-width="1"/>
<line x1="541.8" y1="86.42" x2="541.8" y2="89.82" stroke="#888" stroke-width="1"/>
<line x1="567.7" y1="86.42" x2="567.7" y2="89.82" stroke="#888" stroke-width="1"/>
<line x1="593.6" y1="86.42" x2="593.6" y2="89.82" stroke="#888" stroke-width="1"/>
<line x1="619.5" y1="86.42" x2="619.5" y2="89.82" stroke="#888" stroke-width="1"/>
<line x1="645.4" y1="86.42" x2="645.4" y2="89.82" stroke="#888" stroke-width="1"/>
<line x1="671.3" y1="86.42" x2="671.3" y2="89.82" stroke="#888" stroke-width="1"/>
<line x1="515.9" y1="111.59" x2="515.9" y2="114.99" stroke="#888" stroke-width="1"/>
<line x1="541.8" y1="111.59" x2="541.8" y2="114.99" stroke="#888" stroke-width="1"/>
<line x1="567.7" y1="111.59" x2="567.7" y2="114.99" stroke="#888" stroke-width="1"/>
<line x1="593.6" y1="111.59" x2="593.6" y2="114.99" stroke="#888" stroke-width="1"/>
<line x1="619.5" y1="111.59" x2="619.5" y2="114.99" stroke="#888" stroke-width="1"/>
<line x1="645.4" y1="111.59" x2="645.4" y2="114.99" stroke="#888" stroke-width="1"/>
<line x1="671.3" y1="111.59" x2="671.3" y2="114.99" stroke="#888" stroke-width="1"/>
<line x1="515.9" y1="136.76" x2="515.9" y2="140.16" stroke="#888" stroke-width="1"/>
<line x1="541.8" y1="136.76" x2="541.8" y2="140.16" stroke="#888" stroke-width="1"/>
<line x1="567.7" y1="136.76" x2="567.7" y2="140.16" stroke="#888" stroke-width="1"/>
<line x1="593.6" y1="136.76" x2="593.6" y2="140.16" stroke="#888" stroke-width="1"/>
<line x1="619.5" y1="136.76" x2="619.5" y2="140.16" stroke="#888" stroke-width="1"/>
<line x1="645.4" y1="136.76" x2="645.4" y2="140.16" stroke="#888" stroke-width="1"/>
<line x1="671.3" y1="136.76" x2="671.3" y2="140.16" stroke="#888" stroke-width="1"/>
<line x1="515.9" y1="161.94" x2="515.9" y2="165.34" stroke="#888" stroke-width="1"/>
<line x1="541.8" y1="161.94" x2="541.8" y2="165.34" stroke="#888" stroke-width="1"/>
<line x1="567.7" y1="161.94" x2="567.7" y2="165.34" stroke="#888" stroke-width="1"/>
<line x1="593.6" y1="161.94" x2="593.6" y2="165.34" stroke="#888" stroke-width="1"/>
<line x1="619.5" y1="161.94" x2="619.5" y2="165.34" stroke="#888" stroke-width="1"/>
<line x1="645.4" y1="161.94" x2="645.4" y2="165.34" stroke="#888" stroke-width="1"/>
<line x1="671.3" y1="161.94" x2="671.3" y2="165.34" stroke="#888" stroke-width="1"/>
<line x1="515.9" y1="187.11" x2="515.9" y2="190.51" stroke="#888" stroke-width="1"/>
<line x1="541.8" y1="187.11" x2="541.8" y2="190.51" stroke="#888" stroke-width="1"/>
<line x1="567.7" y1="187.11" x2="567.7" y2="190.51" stroke="#888" stroke-width="1"/>
<line x1="593.6" y1="187.11" x2="593.6" y2="190.51" stroke="#888" stroke-width="1"/>
<line x1="619.5" y1="187.11" x2="619.5" y2="190.51" stroke="#888" stroke-width="1"/>
<line x1="645.4" y1="187.11" x2="645.4" y2="190.51" stroke="#888" stroke-width="1"/>
<line x1="671.3" y1="187.11" x2="671.3" y2="190.51" stroke="#888" stroke-width="1"/>
<line x1="515.9" y1="212.28" x2="515.9" y2="215.68" stroke="#888" stroke-width="1"/>
<line x1="541.8" y1="212.28" x2="541.8" y2="215.68" stroke="#888" stroke-width="1"/>
<line x1="567.7" y1="212.28" x2="567.7" y2="215.68" stroke="#888" stroke-width="1"/>
<line x1="593.6" y1="212.28" x2="593.6" y2="215.68" stroke="#888" stroke-width="1"/>
<line x1="619.5" y1="212.28" x2="619.5" y2="215.68" stroke="#888" stroke-width="1"/>
<line x1="645.4" y1="212.28" x2="645.4" y2="215.68" stroke="#888" stroke-width="1"/>
<line x1="671.3" y1="212.28" x2="671.3" y2="215.68" stroke="#888" stroke-width="1"/>
<line x1="515.9" y1="237.45" x2="515.9" y2="240.85" stroke="#888" stroke-width="1"/>
<line x1="541.8" y1="237.45" x2="541.8" y2="240.85" stroke="#888" stroke-width="1"/>
<line x1="567.7" y1="237.45" x2="567.7" y2="240.85" stroke="#888" stroke-width="1"/>
<line x1="593.6" y1="237.45" x2="593.6" y2="240.85" stroke="#888" stroke-width="1"/>
<line x1="619.5" y1="237.45" x2="619.5" y2="240.85" stroke="#888" stroke-width="1"/>
<line x1="645.4" y1="237.45" x2="645.4" y2="240.85" stroke="#888" stroke-width="1"/>
<line x1="671.3" y1="237.45" x2="671.3" y2="240.85" stroke="#888" stroke-width="1"/>
<line x1="515.9" y1="262.63" x2="515.9" y2="266.03" stroke="#888" stroke-width="1"/>
<line x1="541.8" y1="262.63" x2="541.8" y2="266.03" stroke="#888" stroke-width="1"/>
<line x1="567.7" y1="262.63" x2="567.7" y2="266.03" stroke="#888" stroke-width="1"/>
<line x1="593.6" y1="262.63" x2="593.6" y2="266.03" stroke="#888" stroke-width="1"/>
<line x1="619.5" y1="262.63" x2="619.5" y2="266.03" stroke="#888" stroke-width="1"/>
<line x1="645.4" y1="262.63" x2="645.4" y2="266.03" stroke="#888" stroke-width="1"/>
<line x1="671.3" y1="262.63" x2="671.3" y2="266.03" stroke="#888" stroke-width="1"/>
<polyline points="515.9,13.8 541.8,15.1 567.7,17.6 593.6,22.3 619.5,26.1 645.4,30 671.3,34.1" fill="none" stroke="#ff1414" stroke-width="1.5" stroke-linejoin="round" stroke-linecap="square"/>
<polyline points="515.9,55.2 541.8,51.6 567.7,50.8 593.6,46.1 619.5,44.2 645.4,45.9 671.3,50" fill="none" stroke="#1212fa" stroke-width="1.5" stroke-linejoin="round" stroke-linecap="square"/>
<polyline points="515.9,72.9 541.8,72.6 567.7,68 593.6,71.5 619.5,74.5 645.4,77.6 671.3,80.9" fill="none" stroke="#f0208c" stroke-width="1.5" stroke-linejoin="round" stroke-linecap="square"/>
<polyline points="515.9,98.7 541.8,97.9 567.7,91.3 593.6,94.3 619.5,99.8 645.4,105 671.3,108.8" fill="none" stroke="#6a1840" stroke-width="1.5" stroke-linejoin="round" stroke-linecap="square"/>
<polyline points="515.9,115.2 541.8,116.6 567.7,118.8 593.6,122.9 619.5,126.7 645.4,130 671.3,133.1" fill="none" stroke="#f88222" stroke-width="1.5" stroke-linejoin="round" stroke-linecap="square"/>
<polyline points="515.9,140.2 541.8,140.7 567.7,140.5 593.6,144.6 619.5,149.8 645.4,154.2 671.3,158" fill="none" stroke="#14c87c" stroke-width="1.5" stroke-linejoin="round" stroke-linecap="square"/>
<polyline points="515.9,174.8 541.8,175.4 567.7,181.1 593.6,177.6 619.5,174 645.4,170.7 671.3,167.1" fill="none" stroke="#14eef6" stroke-width="1.5" stroke-linejoin="round" stroke-linecap="square"/>
<polyline points="515.9,198.4 541.8,198.4 567.7,203.9 593.6,200.6 619.5,198.1 645.4,195.9 671.3,192.9" fill="none" stroke="#5060f4" stroke-width="1.5" stroke-linejoin="round" stroke-linecap="square"/>
<polyline points="515.9,225.4 541.8,226.7 567.7,233.1 593.6,233.1 619.5,228.7 645.4,225.1 671.3,218" fill="none" stroke="#9c1a1a" stroke-width="1.5" stroke-linejoin="round" stroke-linecap="square"/>
<polyline points="515.9,242.4 541.8,244.3 567.7,259.1 593.6,254.7 619.5,253.9 645.4,252.5 671.3,252" fill="none" stroke="#eeb028" stroke-width="1.5" stroke-linejoin="round" stroke-linecap="square"/>
<polyline points="515.9,267.1 541.8,267.9 567.7,271.5 593.6,275 619.5,277.8 645.4,279.4 671.3,281.1" fill="none" stroke="#7c7c12" stroke-width="1.5" stroke-linejoin="round" stroke-linecap="square"/>
<line x1="684.3" y1="10.4" x2="684.3" y2="288.3" stroke="#444" stroke-width="1.2"/>
<line x1="502" y1="10.9" x2="684.3" y2="10.9" stroke="#333" stroke-width="1"/>
<line x1="502" y1="287.8" x2="684.3" y2="287.8" stroke="#333" stroke-width="1"/>
<line x1="502.5" y1="10.4" x2="502.5" y2="288.3" stroke="#333" stroke-width="1"/>
<line x1="515.9" y1="287.8" x2="515.9" y2="291.8" stroke="#333" stroke-width="1"/>
<line x1="541.8" y1="287.8" x2="541.8" y2="291.8" stroke="#333" stroke-width="1"/>
<line x1="567.7" y1="287.8" x2="567.7" y2="291.8" stroke="#333" stroke-width="1"/>
<line x1="593.6" y1="287.8" x2="593.6" y2="291.8" stroke="#333" stroke-width="1"/>
<line x1="619.5" y1="287.8" x2="619.5" y2="291.8" stroke="#333" stroke-width="1"/>
<line x1="645.4" y1="287.8" x2="645.4" y2="291.8" stroke="#333" stroke-width="1"/>
<line x1="671.3" y1="287.8" x2="671.3" y2="291.8" stroke="#333" stroke-width="1"/>
<line x1="498.9" y1="21.3" x2="502.4" y2="21.3" stroke="#555" stroke-width="1"/>
<text transform="translate(496.4,22.8) scale(1.03,1)" class="tk">17.0</text>
<line x1="498.9" y1="34" x2="502.4" y2="34" stroke="#555" stroke-width="1"/>
<text transform="translate(496.4,35.5) scale(1.03,1)" class="tk">8.5</text>
<line x1="498.9" y1="41.4" x2="502.4" y2="41.4" stroke="#555" stroke-width="1"/>
<text transform="translate(496.4,42.9) scale(1.03,1)" class="tk">0.7</text>
<line x1="498.9" y1="53.8" x2="502.4" y2="53.8" stroke="#555" stroke-width="1"/>
<text transform="translate(496.4,55.3) scale(1.03,1)" class="tk">0.5</text>
<line x1="498.9" y1="65.6" x2="502.4" y2="65.6" stroke="#555" stroke-width="1"/>
<text transform="translate(496.4,67.1) scale(1.03,1)" class="tk">67.5</text>
<line x1="498.9" y1="78.3" x2="502.4" y2="78.3" stroke="#555" stroke-width="1"/>
<text transform="translate(496.4,79.8) scale(1.03,1)" class="tk">60.0</text>
<line x1="498.9" y1="92" x2="502.4" y2="92" stroke="#555" stroke-width="1"/>
<text transform="translate(496.4,93.5) scale(1.03,1)" class="tk">49</text>
<line x1="498.9" y1="104.6" x2="502.4" y2="104.6" stroke="#555" stroke-width="1"/>
<text transform="translate(496.4,106.1) scale(1.03,1)" class="tk">42</text>
<line x1="498.9" y1="119.1" x2="502.4" y2="119.1" stroke="#555" stroke-width="1"/>
<text transform="translate(496.4,120.6) scale(1.03,1)" class="tk">1.7</text>
<line x1="498.9" y1="131.5" x2="502.4" y2="131.5" stroke="#555" stroke-width="1"/>
<text transform="translate(496.4,133) scale(1.03,1)" class="tk">0.9</text>
<line x1="498.9" y1="139.9" x2="502.4" y2="139.9" stroke="#555" stroke-width="1"/>
<text transform="translate(496.4,141.4) scale(1.03,1)" class="tk">8.0</text>
<line x1="498.9" y1="152" x2="502.4" y2="152" stroke="#555" stroke-width="1"/>
<text transform="translate(496.4,153.5) scale(1.03,1)" class="tk">6.0</text>
<line x1="498.9" y1="161.6" x2="502.4" y2="161.6" stroke="#555" stroke-width="1"/>
<text transform="translate(496.4,163.1) scale(1.03,1)" class="tk">10</text>
<line x1="498.9" y1="174.3" x2="502.4" y2="174.3" stroke="#555" stroke-width="1"/>
<text transform="translate(496.4,175.8) scale(1.03,1)" class="tk">9</text>
<line x1="498.9" y1="186.9" x2="502.4" y2="186.9" stroke="#555" stroke-width="1"/>
<text transform="translate(496.4,188.4) scale(1.03,1)" class="tk">8</text>
<line x1="498.9" y1="191.5" x2="502.4" y2="191.5" stroke="#555" stroke-width="1"/>
<text transform="translate(496.4,193) scale(1.03,1)" class="tk">11</text>
<line x1="498.9" y1="202" x2="502.4" y2="202" stroke="#555" stroke-width="1"/>
<text transform="translate(496.4,203.5) scale(1.03,1)" class="tk">10</text>
<line x1="498.9" y1="212.1" x2="502.4" y2="212.1" stroke="#555" stroke-width="1"/>
<text transform="translate(496.4,213.6) scale(1.03,1)" class="tk">30</text>
<line x1="498.9" y1="228.3" x2="502.4" y2="228.3" stroke="#555" stroke-width="1"/>
<text transform="translate(496.4,229.8) scale(1.03,1)" class="tk">25</text>
<line x1="498.9" y1="238.1" x2="502.4" y2="238.1" stroke="#555" stroke-width="1"/>
<text transform="translate(496.4,239.6) scale(1.03,1)" class="tk">66</text>
<line x1="498.9" y1="246.2" x2="502.4" y2="246.2" stroke="#555" stroke-width="1"/>
<text transform="translate(496.4,247.7) scale(1.03,1)" class="tk">64</text>
<line x1="498.9" y1="254" x2="502.4" y2="254" stroke="#555" stroke-width="1"/>
<text transform="translate(496.4,255.5) scale(1.03,1)" class="tk">62</text>
<line x1="498.9" y1="262.9" x2="502.4" y2="262.9" stroke="#555" stroke-width="1"/>
<text transform="translate(496.4,264.4) scale(1.03,1)" class="tk">0.008</text>
<line x1="498.9" y1="273.4" x2="502.4" y2="273.4" stroke="#555" stroke-width="1"/>
<text transform="translate(496.4,274.9) scale(1.03,1)" class="tk">0.006</text>
<line x1="498.9" y1="282.6" x2="502.4" y2="282.6" stroke="#555" stroke-width="1"/>
<text transform="translate(496.4,284.1) scale(1.03,1)" class="tk">0.004</text>
<text class="yl" transform="translate(473.11,21.1) rotate(-90)">Tmean</text>
<text class="yu" transform="translate(479.1,21.35) rotate(-90)">(°C)</text>
<text class="yl" transform="translate(472.66,45.5) rotate(-90)">Pr</text>
<text class="yu" transform="translate(479.1,45.45) rotate(-90)">(mm/day)</text>
<text class="yl" transform="translate(473.96,70.7) rotate(-90)">ERC</text>
<text class="yu" transform="translate(480.2,71.35) rotate(-90)">(-)</text>
<text class="yl" transform="translate(474.41,96.7) rotate(-90)">BI</text>
<text class="yu" transform="translate(480.6,97.35) rotate(-90)">(-)</text>
<text class="yl" transform="translate(474.66,121.2) rotate(-90)">VPD</text>
<text class="yu" transform="translate(480.6,121) rotate(-90)">(kPa)</text>
<text class="yl" transform="translate(474.46,145.6) rotate(-90)">Etr</text>
<text class="yu" transform="translate(479.8,146.4) rotate(-90)">(mm/day)</text>
<text class="yl" transform="translate(474.66,172) rotate(-90)">FM100</text>
<text class="yu" transform="translate(480.6,172.9) rotate(-90)">(%)</text>
<text class="yl" transform="translate(474.71,201.35) rotate(-90)">FM1000</text>
<text class="yu" transform="translate(480.15,201.35) rotate(-90)">(%)</text>
<text class="yl" transform="translate(474.86,228.3) rotate(-90)">Rmin</text>
<text class="yu" transform="translate(480.6,228.3) rotate(-90)">(%)</text>
<text class="yl" transform="translate(474.66,251.1) rotate(-90)">Rmax</text>
<text class="yu" transform="translate(480.4,252) rotate(-90)">(%)</text>
<text class="yl" transform="translate(474.41,275.35) rotate(-90)">SPH</text>
<text class="yu" transform="translate(480.6,275.35) rotate(-90)">(kg/kg)</text>
<text class="xl" transform="translate(518.2,296.3) rotate(-45)">0-500</text>
<text class="xl" transform="translate(544.1,296.3) rotate(-45)">500-1000</text>
<text class="xl" transform="translate(571,297.5) rotate(-45)">1000-1500</text>
<text class="xl" transform="translate(596.9,297.5) rotate(-45)">1500-2000</text>
<text class="xl" transform="translate(622.8,297.5) rotate(-45)">2000-2500</text>
<text class="xl" transform="translate(648.7,297.5) rotate(-45)">2500-3000</text>
<text class="xl" transform="translate(674.6,297.5) rotate(-45)">&gt;3000</text>
<text class="xt" x="590.8" y="331">Elevation (m a.s.l.)</text>
<text class="tt" transform="translate(591.4,8.1) scale(0.88,1)">5: Sierra Nevada</text>
<text class="pl" x="477.4" y="8.2">c</text>
</svg>
</body></html>
